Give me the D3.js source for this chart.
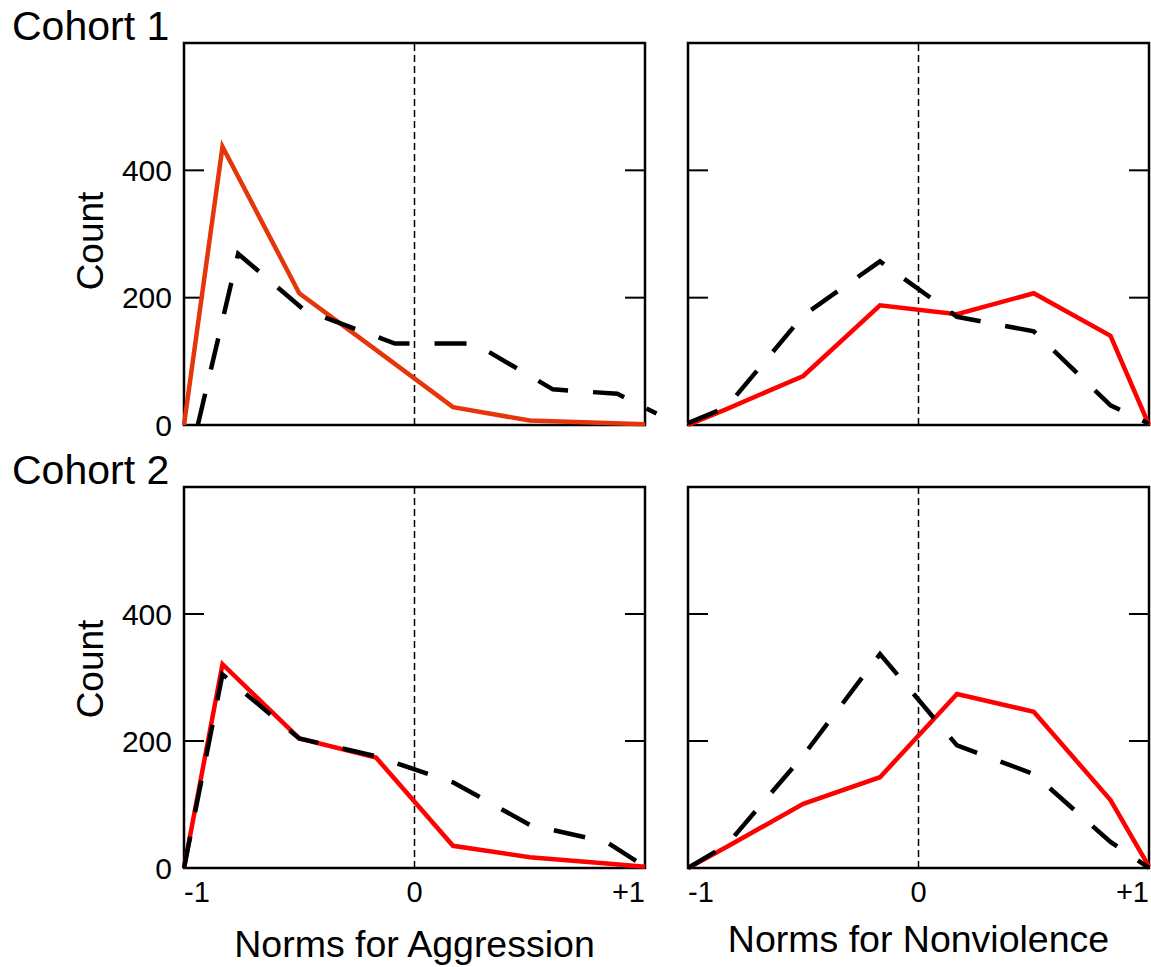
<!DOCTYPE html>
<html>
<head>
<meta charset="utf-8">
<script src="https://cdn.jsdelivr.net/npm/d3@7"></script>
<style>
  body { margin: 0; background: #fff; }
  svg text { font-family: "Liberation Sans", Arial, sans-serif; fill: #000; }
</style>
</head>
<body>
<svg id="chart" width="1151" height="967"></svg>
<script>
// bin positions on the norms scale (-1 .. +1)
const xBins = [-1, -0.833, -0.5, -0.167, 0.167, 0.5, 0.833, 1];
// cohort 1 aggression dashed series is drawn slightly offset in the source
const c1AggDashX = [-0.94, -0.765, -0.48, -0.085, 0.26, 0.6, 0.88, 1.05];

// counts
const c1AggSolid = [0, 437, 207, 118, 28, 7, 3, 1];
const c1AggDash = [0, 269, 181, 128, 128, 56, 49, 18];
const c1NonSolid = [0, 25, 77, 188, 174, 207, 140, 0];
const c1NonDash = [3, 28, 172, 257, 170, 147, 31, 2];
const c2AggSolid = [0, 321, 204, 174, 35, 17, 7, 2];
const c2AggDash = [0, 305, 204, 176, 135, 68, 41, 2];
const c2NonSolid = [0, 33, 101, 143, 274, 246, 107, 2];
const c2NonDash = [0, 36, 177, 337, 193, 148, 41, 0];

const yTicks = [0, 200, 400];
const xTickLabels = ["-1", "0", "+1"];
const xTickValues = [-1, 0, 1];
const rowTitles = ["Cohort 1", "Cohort 2"];
const xTitles = ["Norms for Aggression", "Norms for Nonviolence"];

const svg = d3.select("#chart");

const cols = [{ x0: 184, x1: 645, titleY: 957 }, { x0: 688, x1: 1149, titleY: 952 }];
const rows = [{ y0: 43, y1: 425, countY: 241 }, { y0: 487, y1: 868, countY: 669 }];

const panels = [
  { r: 0, c: 0, sx: xBins, s: c1AggSolid, dx: c1AggDashX, d: c1AggDash, color: "#e5360b" },
  { r: 0, c: 1, sx: xBins, s: c1NonSolid, dx: xBins, d: c1NonDash, color: "#ff0000" },
  { r: 1, c: 0, sx: xBins, s: c2AggSolid, dx: xBins, d: c2AggDash, color: "#ff0000" },
  { r: 1, c: 1, sx: xBins, s: c2NonSolid, dx: xBins, d: c2NonDash, color: "#ff0000" },
];

panels.forEach((p) => {
  const col = cols[p.c];
  const row = rows[p.r];
  const x = d3.scaleLinear().domain([-1, 1]).range([col.x0, col.x1]);
  const y = d3.scaleLinear().domain([0, 600]).range([row.y1, row.y0]);
  const g = svg.append("g");

  // zero line
  g.append("line")
    .attr("x1", x(0)).attr("x2", x(0))
    .attr("y1", y(0)).attr("y2", y(600))
    .attr("stroke", "#000")
    .attr("stroke-width", 1.5)
    .attr("stroke-dasharray", "7,4");

  // inward ticks on both sides
  const tickVals = yTicks.filter((t) => t > 0);
  g.selectAll(".tl").data(tickVals).enter().append("line")
    .attr("x1", col.x0).attr("x2", col.x0 + 20)
    .attr("y1", y).attr("y2", y)
    .attr("stroke", "#000").attr("stroke-width", 2);
  g.selectAll(".tr").data(tickVals).enter().append("line")
    .attr("x1", col.x1 - 20).attr("x2", col.x1)
    .attr("y1", y).attr("y2", y)
    .attr("stroke", "#000").attr("stroke-width", 2);

  // frame
  g.append("rect")
    .attr("x", col.x0).attr("y", row.y0)
    .attr("width", col.x1 - col.x0).attr("height", row.y1 - row.y0)
    .attr("fill", "none").attr("stroke", "#000").attr("stroke-width", 2.5);

  const line = d3.line()
    .x((d) => x(d[0]))
    .y((d) => y(d[1]));

  g.append("path")
    .attr("d", line(d3.zip(p.sx, p.s)))
    .attr("fill", "none")
    .attr("stroke", p.color)
    .attr("stroke-width", 4.5);

  g.append("path")
    .attr("d", line(d3.zip(p.dx, p.d)))
    .attr("fill", "none")
    .attr("stroke", "#000")
    .attr("stroke-width", 4.5)
    .attr("stroke-dasharray", "32,25");

  if (p.c === 0) {
    g.selectAll(".yl").data(yTicks).enter().append("text")
      .attr("x", col.x0 - 12)
      .attr("y", y)
      .attr("dy", "0.36em")
      .attr("text-anchor", "end")
      .attr("font-size", 30)
      .text((d) => d);

    g.append("text")
      .attr("transform", `translate(103, ${row.countY}) rotate(-90)`)
      .attr("text-anchor", "middle")
      .attr("font-size", 37)
      .text("Count");

    g.append("text")
      .attr("x", 12)
      .attr("y", row.y0 - 3)
      .attr("font-size", 41)
      .text(rowTitles[p.r]);
  }

  if (p.r === 1) {
    g.selectAll(".xl").data(xTickValues).enter().append("text")
      .attr("x", (d) => x(d))
      .attr("y", 902)
      .attr("text-anchor", (d, i) => (i === 0 ? "start" : i === 2 ? "end" : "middle"))
      .attr("font-size", 29)
      .text((d, i) => xTickLabels[i]);

    g.append("text")
      .attr("x", (col.x0 + col.x1) / 2)
      .attr("y", col.titleY)
      .attr("text-anchor", "middle")
      .attr("font-size", 37.5)
      .text(xTitles[p.c]);
  }
});
</script>
</body>
</html>
